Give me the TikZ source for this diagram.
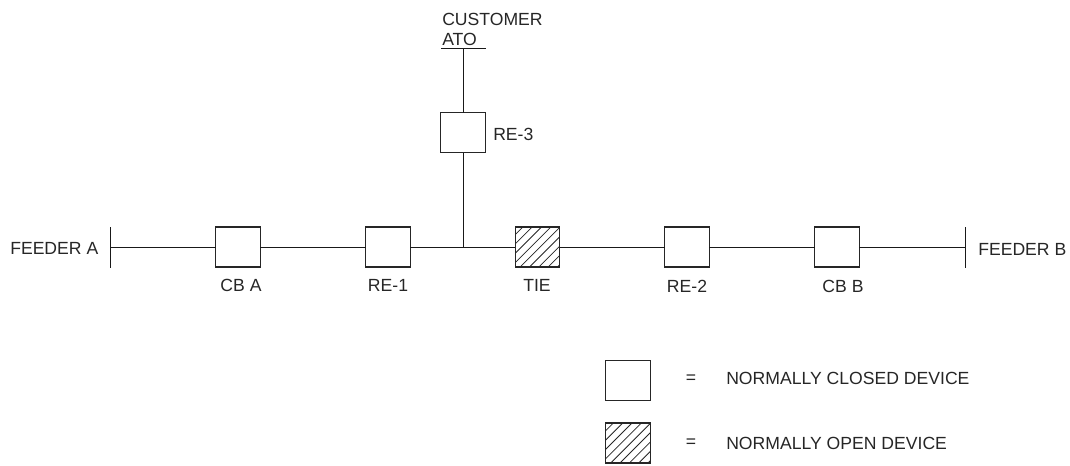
\documentclass[tikz,border=0pt]{standalone}
\usepackage{fontspec}
\setmainfont{Liberation Sans}
\tikzset{
  device/.style={draw=black!85,line width=0.8pt,minimum width=33.5pt,minimum height=30pt,inner sep=0pt,outer sep=0pt,fill=white},
  hatched/.style={device,path picture={
    \foreach \k in {-8,...,8}{
      \draw[black!85,line width=0.6pt] ([xshift=\k*7pt-20pt]path picture bounding box.south) -- ++(40pt,40pt);
    }}},
  lbl/.style={inner sep=0pt,font=\fontsize{13.2}{16}\selectfont,text=black!85},
  wire/.style={draw=black!90,line width=0.7pt}
}
\begin{document}
\begin{tikzpicture}[x=0.75pt,y=-0.75pt]
\useasboundingbox (0,0) rectangle (1070,465);
\node[device] (cba) at (238,247) {};
\node[device] (re1) at (388,247) {};
\node[hatched] (tie) at (537.5,247) {};
\node[device] (re2) at (687,247) {};
\node[device] (cbb) at (837,247) {};
\node[device] (re3) at (463,132.5) {};
\coordinate (fa) at (110,247);
\coordinate (fb) at (965,247);
\coordinate (fat) at (110,227);
\coordinate (fab) at (110,268);
\coordinate (fbt) at (965,227);
\coordinate (fbb) at (965,268);
\coordinate (ato) at (463,48);
\coordinate (atol) at (441,48);
\coordinate (ator) at (486,48);
\coordinate (j) at (463,247);
\draw[wire] (fat) -- (fab);
\draw[wire] (fbt) -- (fbb);
\draw[wire] (atol) -- (ator);
\draw[wire] (fa) -- (cba);
\draw[wire] (cba) -- (re1);
\draw[wire] (re1) -- (tie);
\draw[wire] (tie) -- (re2);
\draw[wire] (re2) -- (cbb);
\draw[wire] (cbb) -- (fb);
\draw[wire] (j) -- (re3);
\draw[wire] (re3) -- (ato);
\node[lbl,anchor=west] (tfa) at (10,248) {FEEDER A};
\node[lbl,anchor=west] (tfb) at (978,249) {FEEDER B};
\node[lbl,anchor=west] (tc) at (442,19) {CUSTOMER};
\node[lbl,anchor=west] (ta) at (442,39) {ATO};
\node[lbl,anchor=west] (t3) at (493,134) {RE-3};
\node[lbl] (t1) at (241,285) {CB A};
\node[lbl] (t2) at (388,285) {RE-1};
\node[lbl] (t4) at (537,285) {TIE};
\node[lbl] (t5) at (687,286) {RE-2};
\node[lbl] (t6) at (843,286) {CB B};
\node[device] (k1) at (628,380.5) {};
\node[hatched] (k2) at (628,443) {};
\node[lbl] (e1) at (691,379) {=};
\node[lbl] (e2) at (691,443) {=};
\node[lbl,anchor=west] (d1) at (726,378) {NORMALLY CLOSED DEVICE};
\node[lbl,anchor=west] (d2) at (726,443) {NORMALLY OPEN DEVICE};
\end{tikzpicture}
\end{document}
